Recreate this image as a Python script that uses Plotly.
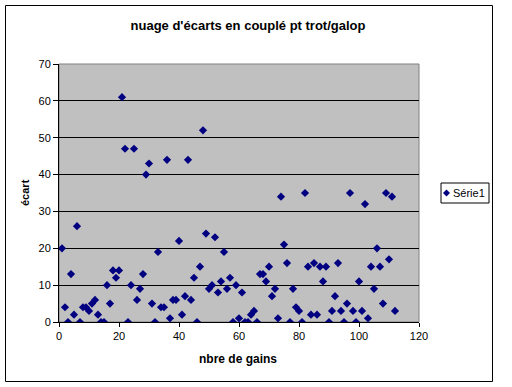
import plotly.graph_objects as go

# Data
nbre_de_gains = list(range(1, 113))
ecart = [20, 4, 0, 13, 2, 26, 0, 4, 4, 3,
         5, 6, 2, 0, 0, 10, 5, 14, 12, 14,
         61, 47, 0, 10, 47, 6, 9, 13, 40, 43,
         5, 0, 19, 4, 4, 44, 1, 6, 6, 22,
         2, 7, 44, 6, 12, 0, 15, 52, 24, 9,
         10, 23, 8, 11, 19, 9, 12, 0, 10, 1,
         8, 0, 0, 2, 3, 0, 13, 13, 11, 15,
         7, 9, 1, 34, 21, 16, 0, 9, 4, 3,
         0, 35, 15, 2, 16, 2, 15, 11, 15, 0,
         3, 7, 16, 3, 0, 5, 35, 3, 0, 11,
         3, 32, 1, 15, 9, 20, 15, 5, 35, 17,
         34, 3]
series_name = "Série1"
x_ticks = [0, 20, 40, 60, 80, 100, 120]
y_ticks = [0, 10, 20, 30, 40, 50, 60, 70]

FONT = "Liberation Sans, Arial, sans-serif"
NAVY = "#000080"

W, H = 512, 387
L, R, T, B = 59, 419, 64, 322  # plot area in pixels


def px(xp):
    return (xp - L) / (R - L)


def py(yp):
    return (B - yp) / (B - T)


fig = go.Figure()
fig.add_trace(go.Scatter(
    x=nbre_de_gains, y=ecart, mode="markers", name=series_name,
    marker=dict(symbol="diamond", size=6.3, color=NAVY, line=dict(width=0)),
    showlegend=False,
))

shapes = [
    # outer chart frame
    dict(type="rect", xref="paper", yref="paper",
         x0=px(5.5), x1=px(492.5), y0=py(381.5), y1=py(5.5),
         line=dict(color="black", width=1), layer="above"),
    # plot area border (grey)
    dict(type="rect", xref="paper", yref="paper",
         x0=0, x1=1, y0=0, y1=1,
         line=dict(color="#808080", width=1), layer="between"),
    # legend box
    dict(type="rect", xref="paper", yref="paper",
         x0=px(441), x1=px(489), y0=py(203), y1=py(183),
         line=dict(color="black", width=1), fillcolor="white", layer="above"),
    # legend diamond
    dict(type="path", xref="paper", yref="paper",
         path="M {a},{b} L {c},{d} L {a},{e} L {f},{d} Z".format(
             a=px(446.5), b=py(189.5), c=px(450), d=py(193),
             e=py(196.5), f=px(443)),
         fillcolor=NAVY, line=dict(width=0), layer="above"),
]

annotations = [
    dict(text="<b>nbre de gains</b>", xref="paper", yref="paper",
         x=px(238), y=py(359), showarrow=False,
         font=dict(family=FONT, size=12, color="black"),
         xanchor="center", yanchor="middle"),
    dict(text="<b>écart</b>", xref="paper", yref="paper",
         x=px(25), y=py(193), showarrow=False, textangle=-90,
         font=dict(family=FONT, size=11, color="black"),
         xanchor="center", yanchor="middle"),
    dict(text=series_name, xref="paper", yref="paper",
         x=px(451), y=py(193), showarrow=False,
         font=dict(family=FONT, size=11, color="black"),
         xanchor="left", yanchor="middle"),
]

fig.update_layout(
    width=W, height=H,
    margin=dict(l=L, r=W - R, t=T, b=H - B, pad=0),
    paper_bgcolor="white", plot_bgcolor="#C0C0C0",
    title=dict(text="<b>nuage d'écarts en couplé pt trot/galop</b>",
               x=248 / W, y=1 - 25 / H, xref="container", yref="container",
               xanchor="center", yanchor="middle",
               font=dict(family=FONT, size=13, color="black")),
    font=dict(family=FONT, size=11, color="black"),
    shapes=shapes, annotations=annotations,
    showlegend=False,
)
fig.update_xaxes(range=[0, 120], tickvals=x_ticks, ticks="outside", ticklen=4,
                 tickcolor="black", showline=True, linecolor="black", linewidth=1,
                 showgrid=False, zeroline=False,
                 tickfont=dict(family=FONT, size=11, color="black"))
fig.update_yaxes(range=[0, 70], tickvals=y_ticks, ticks="outside", ticklen=5,
                 tickcolor="black", showline=True, linecolor="black", linewidth=1,
                 showgrid=True, gridcolor="black", gridwidth=1, zeroline=False,
                 tickfont=dict(family=FONT, size=11, color="black"))

fig.write_html("out.html",
               config={"displayModeBar": False},
               post_script="document.body.style.margin='0';"
                           "document.body.style.overflow='hidden';")
